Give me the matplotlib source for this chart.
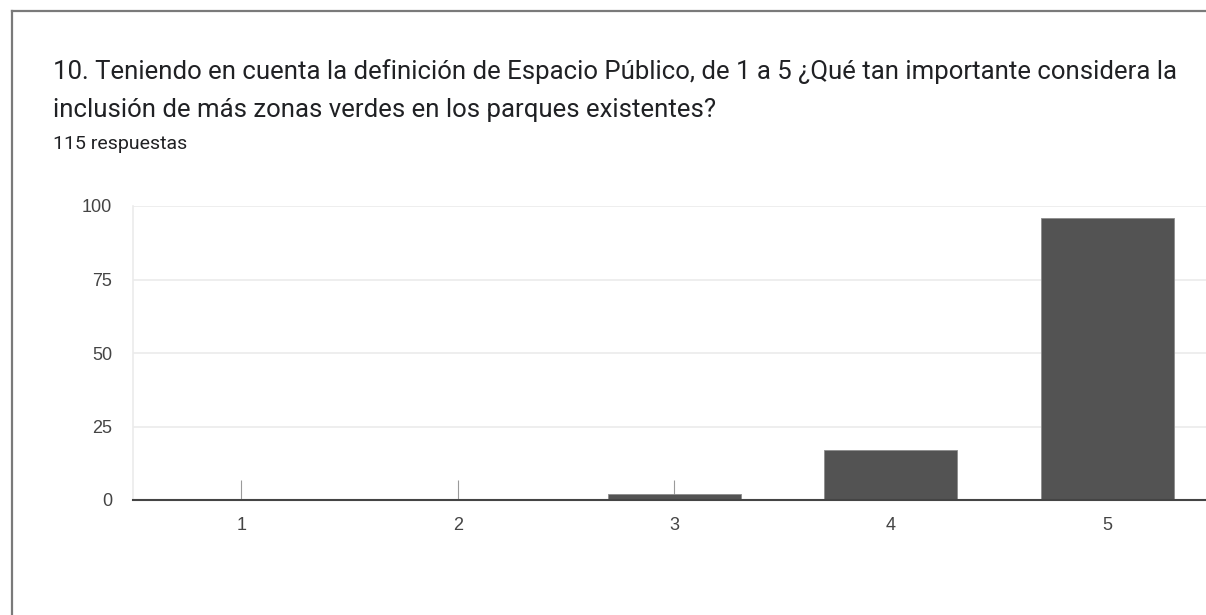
import matplotlib
matplotlib.use("Agg")
import matplotlib.pyplot as plt
from matplotlib.lines import Line2D

# survey answers: rating 1..5 and number of responses
ratings = ["1", "2", "3", "4", "5"]
counts = [0, 0, 2, 17, 96]
y_ticks = [0, 25, 50, 75, 100]

title_lines = [
    "10. Teniendo en cuenta la definición de Espacio Público, de 1 a 5 ¿Qué tan importante considera la",
    "inclusión de más zonas verdes en los parques existentes?",
]
subtitle = "115 respuestas"

W, H = 1206, 615
fig = plt.figure(figsize=(W / 100, H / 100), dpi=100)
fig.patch.set_facecolor("white")

# card border (left and top edges only)
fig.add_artist(Line2D([12 / W, 12 / W], [0, 1 - 11 / H], color="#7a7a7a", lw=1.6,
                      transform=fig.transFigure))
fig.add_artist(Line2D([12 / W, 1], [1 - 11 / H, 1 - 11 / H], color="#7a7a7a", lw=1.6,
                      transform=fig.transFigure))

# question text
fig.text(53 / W, 1 - 79 / H, title_lines[0], family="Roboto", fontsize=18.5,
         color="#202124", va="baseline", ha="left")
fig.text(53 / W, 1 - 117 / H, title_lines[1], family="Roboto", fontsize=18.5,
         color="#202124", va="baseline", ha="left")
fig.text(53 / W, 1 - 149 / H, subtitle, family="Roboto", fontsize=14,
         color="#202124", va="baseline", ha="left")

# plot area: categories spaced ~216.5 px, 0..100 spans 294 px
left, right, top, bottom = 133, 1215.5, 206, 500
ax = fig.add_axes([left / W, 1 - bottom / H, (right - left) / W, (bottom - top) / H])

x = list(range(1, len(ratings) + 1))
ax.set_axisbelow(True)
ax.bar(x, counts, width=0.615, color="#535353", edgecolor="#8c8c8c", linewidth=0.6, zorder=2)

ax.set_xlim(0.5, 5.5)
ax.set_ylim(0, 100)
ax.set_xticks(x)
ax.set_xticklabels(ratings)
ax.set_yticks(y_ticks)
ax.set_yticklabels([str(v) for v in y_ticks])

ax.grid(axis="y", color="#ebebeb", linewidth=1.2)
ax.tick_params(axis="x", direction="in", length=14.4, width=0.8, color="#9a9a9a",
               pad=12, labelsize=13, labelcolor="#444444")
ax.tick_params(axis="y", length=0, pad=15, labelsize=13, labelcolor="#444444")
for lbl in ax.get_xticklabels() + ax.get_yticklabels():
    lbl.set_family("Liberation Sans")

for side in ["top", "right", "bottom"]:
    ax.spines[side].set_visible(False)
ax.spines["left"].set_color("#ebebeb")
ax.spines["left"].set_linewidth(1.2)

# dark baseline drawn over the bars
ax.axhline(0, color="#444444", linewidth=1.5, zorder=3, clip_on=False)

fig.savefig("out.png", dpi=100, facecolor="white")
